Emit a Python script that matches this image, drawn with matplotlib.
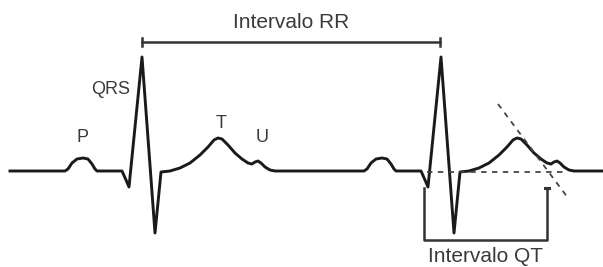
import matplotlib
matplotlib.use('Agg')
import matplotlib.pyplot as plt
import numpy as np

# ── 데이터 (픽셀 좌표, y는 아래로 증가) ──
# 한 박동의 형태 (R 정점 기준 x 오프셋, 절대 y)
beat_dx = [-77, -74, -70, -65, -59, -54, -50, -47, -45,
           -20, -16, -13, 0, 13, 19,
           28, 38, 48, 58, 66, 72, 76, 80, 86, 93, 100, 106, 110,
           113, 116, 119, 123, 128, 133]
beat_y = [171, 169, 163, 159, 158, 159, 164, 169, 171,
          171, 180, 187, 57, 233, 172,
          171, 168, 163, 155, 147, 140, 138, 139, 145, 153, 159, 163, 164,
          162, 161, 163, 167, 170, 171]
r_peaks = [142, 441]
trace_start, trace_end = 10, 603

wave_labels = ['P', 'QRS', 'T', 'U']
wave_label_x = [83, 111, 221, 262]
wave_label_y = [137, 90, 123, 138]

rr_x = [142, 440]
rr_y = 42
qt_x = [424, 547]
qt_top = [188, 188]
qt_bottom = 240

baseline_dash_x = [427, 567]
tangent_x = [498, 568]
tangent_y = [104, 198]

# ── 그리기 ──
fig = plt.figure(figsize=(6.03, 2.67), dpi=100)
ax = fig.add_axes([0, 0, 1, 1])
ax.set_xlim(0, 603)
ax.set_ylim(267, 0)
ax.axis('off')

col = '#1a1a1a'
txt_col = '#3a3a3a'
xs, ys = [trace_start], [171]
for r in r_peaks:
    xs += [r + d for d in beat_dx]
    ys += beat_y
xs.append(trace_end)
ys.append(171)
ax.plot(xs, ys, color=col, lw=2.1, solid_joinstyle='round')

for lab, lx, ly in zip(wave_labels, wave_label_x, wave_label_y):
    ax.text(lx, ly, lab, fontsize=13, color=txt_col, ha='center', va='center',
            family='Liberation Sans')

# 간격 RR
ax.plot(rr_x, [rr_y, rr_y], color='#333333', lw=1.8)
for x in rr_x:
    ax.plot([x, x], [rr_y - 4, rr_y + 4], color='#333333', lw=1.8)
ax.text(np.mean(rr_x), 23, 'Intervalo RR', fontsize=15, color=txt_col,
        ha='center', va='center', family='Liberation Sans')

# 간격 QT
ax.plot([qt_x[0], qt_x[0], qt_x[1], qt_x[1]],
        [qt_top[0], qt_bottom, qt_bottom, qt_top[1]], color='#333333', lw=1.8)
ax.plot([qt_x[1] - 2, qt_x[1] + 2], [qt_top[1], qt_top[1]], color='#333333', lw=2.2)
ax.text(np.mean(qt_x), 256, 'Intervalo QT', fontsize=15, color=txt_col,
        ha='center', va='center', family='Liberation Sans')

# 점선
ax.plot(baseline_dash_x, [172, 172], color='#444444', lw=1.3, ls=(0, (3, 3)))
ax.plot(tangent_x, tangent_y, color='#444444', lw=1.3, ls=(0, (3, 3)))

fig.savefig('out.png', dpi=100)
